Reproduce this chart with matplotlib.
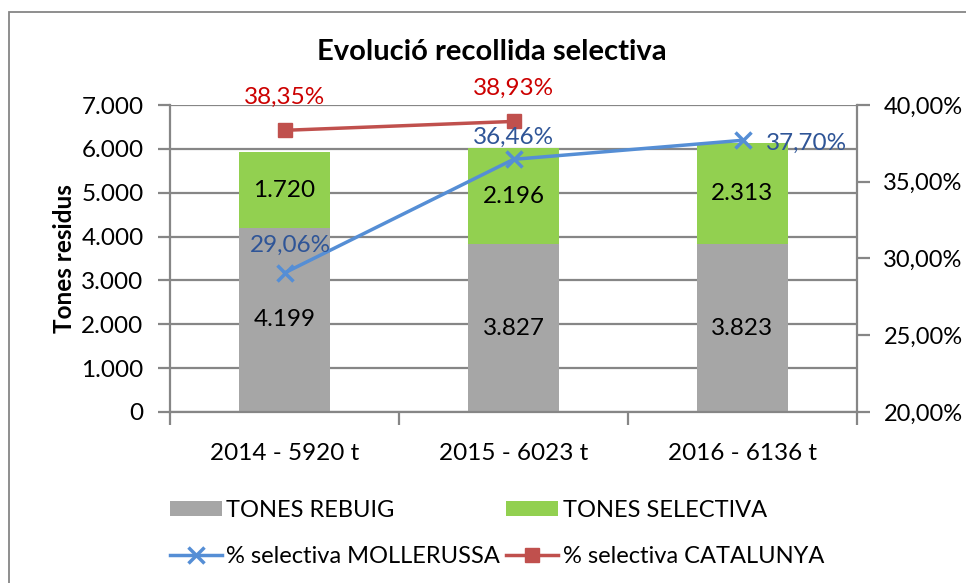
import matplotlib.pyplot as plt
import numpy as np
from matplotlib.patches import Rectangle
from matplotlib.ticker import FuncFormatter, MultipleLocator

plt.rcParams['font.family'] = ['Lato', 'DejaVu Sans']

# data
categories = ['2014 - 5920 t', '2015 - 6023 t', '2016 - 6136 t']
tones_rebuig = [4199, 3827, 3823]
tones_selectiva = [1720, 2196, 2313]
pct_mollerussa = [0.2906, 0.3646, 0.3770]
pct_catalunya = [0.3835, 0.3893]

grey = '#A6A6A6'
green = '#92D050'
blue = '#558ED5'
red = '#C0504D'
axis_col = '#868686'
fs = 17.5


def thousands(v):
    return f'{v:,.0f}'.replace(',', '.')


def pct(v):
    return f'{v * 100:.2f}%'.replace('.', ',')


fig = plt.figure(figsize=(9.66, 5.83), dpi=100)
fig.patches.append(Rectangle((9 / 966, -0.1), 1.2, 1.1 - 12 / 583, transform=fig.transFigure,
                             fill=False, edgecolor=axis_col, lw=1.3))

ax = fig.add_axes([170 / 966, 1 - 412 / 583, 687 / 966, 307 / 583])
x = np.arange(len(categories))
w = 0.40
ax.bar(x, tones_rebuig, w, color=grey, label='TONES REBUIG', zorder=2)
ax.bar(x, tones_selectiva, w, bottom=tones_rebuig, color=green, label='TONES SELECTIVA', zorder=2)
for i in range(len(x)):
    ax.text(x[i], tones_rebuig[i] / 2, thousands(tones_rebuig[i]), ha='center', va='center', fontsize=fs)
    ax.text(x[i], tones_rebuig[i] + tones_selectiva[i] / 2, thousands(tones_selectiva[i]),
            ha='center', va='center', fontsize=fs)

ax.set_xlim(-0.5, 2.5)
ax.set_ylim(0, 7000)
ax.yaxis.set_major_locator(MultipleLocator(1000))
ax.yaxis.set_major_formatter(FuncFormatter(lambda v, p: thousands(v)))
ax.grid(axis='y', color=axis_col, lw=1.6, zorder=0)
ax.set_axisbelow(True)
ax.set_xticks(x)
ax.set_xticklabels(categories, fontsize=fs)
ax.set_xticks([-0.5, 0.5, 1.5, 2.5], minor=True)
ax.tick_params(axis='x', which='major', length=0, pad=22)
ax.tick_params(axis='x', which='minor', length=9, width=1.6, color=axis_col)
ax.tick_params(axis='y', labelsize=fs, length=9, width=1.6, color=axis_col, pad=10)
ax.set_ylabel('Tones residus', fontsize=fs, fontweight='bold', labelpad=4)
ax.spines['top'].set_visible(False)
for s in ['left', 'bottom', 'right']:
    ax.spines[s].set_color(axis_col)
    ax.spines[s].set_linewidth(1.6)

ax2 = ax.twinx()
ax2.set_ylim(0.20, 0.40)
ax2.yaxis.set_major_locator(MultipleLocator(0.05))
ax2.yaxis.set_major_formatter(FuncFormatter(lambda v, p: pct(v)))
ax2.tick_params(axis='y', labelsize=17, length=9, width=1.6, color=axis_col, pad=10)
for s in ['left', 'bottom', 'right', 'top']:
    ax2.spines[s].set_visible(False)

l1, = ax2.plot(x, pct_mollerussa, color=blue, lw=2.5, marker='x', markersize=11,
               markeredgewidth=2.5, label='% selectiva MOLLERUSSA', zorder=3)
l2, = ax2.plot(x[:len(pct_catalunya)], pct_catalunya, color=red, lw=2.5, marker='s',
               markersize=10, label='% selectiva CATALUNYA', zorder=3)

blue_txt = '#2F5597'
red_txt = '#CC0000'
for i, v in enumerate(pct_catalunya):
    ax2.annotate(pct(v), (x[i], v), xytext=(0, 24), textcoords='offset points',
                 ha='center', va='center', fontsize=fs, color=red_txt)
offsets = [(4, 20), (0, 16), (46, -2)]
for i, v in enumerate(pct_mollerussa):
    ax2.annotate(pct(v), (x[i], v), xytext=offsets[i], textcoords='offset points',
                 ha='center', va='center', fontsize=fs, color=blue_txt)

h1, lab1 = ax.get_legend_handles_labels()
handles = [h1[0], l1, h1[1], l2]
labels = [lab1[0], l1.get_label(), lab1[1], l2.get_label()]
fig.legend(handles, labels, ncol=2, loc='upper left', bbox_to_anchor=(158 / 966, 1 - 488 / 583),
           frameon=False, fontsize=17, handlelength=2.2, handleheight=0.65, handletextpad=0.2,
           columnspacing=0.25, labelspacing=1.05, borderpad=0)

fig.text(492 / 966, 1 - 52 / 583, 'Evolució recollida selectiva', ha='center', va='center',
         fontsize=21, fontweight='bold')

fig.savefig('out.png', dpi=100)
